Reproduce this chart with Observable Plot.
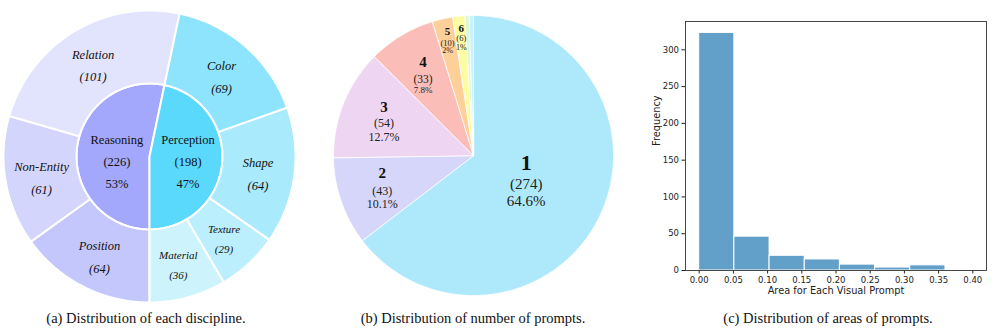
<!DOCTYPE html>
<html><head><meta charset="utf-8">
<script src="https://cdn.jsdelivr.net/npm/d3@7"></script>
<script src="https://cdn.jsdelivr.net/npm/@observablehq/plot@0.6"></script>
<style>
body{margin:0;background:#fff;}
#fig{position:relative;width:996px;height:333px;overflow:hidden;background:#fff;}
.panel{position:absolute;top:0;}
.cap{position:absolute;top:309px;font-family:"Liberation Serif",serif;font-size:14.5px;color:#111;white-space:nowrap;transform:translateX(-50%);line-height:18px;}
</style></head><body>
<div id="fig">
  <div class="panel" id="pa" style="left:0px"></div>
  <div class="panel" id="pb" style="left:323px"></div>
  <div class="panel" id="pc" style="left:640px"></div>
  <div class="cap" style="left:146px">(a) Distribution of each discipline.</div>
  <div class="cap" style="left:473px">(b) Distribution of number of prompts.</div>
  <div class="cap" style="left:828px">(c) Distribution of areas of prompts.</div>
</div>
<script>
// ---------- DATA ----------
// (a) disciplines (inner ring) and sub-categories (outer ring)
const disciplines = ["Reasoning", "Perception"];
const disciplineCounts = [226, 198];
const subCategories = ["Position", "Non-Entity", "Relation", "Color", "Shape", "Texture", "Material"];
const subParents = ["Reasoning", "Reasoning", "Reasoning", "Perception", "Perception", "Perception", "Perception"];
const subCounts = [64, 61, 101, 69, 64, 29, 36];

// (b) number of prompts
const promptNumbers = ["1", "2", "3", "4", "5", "6", "7", "8"];
const promptCounts = [274, 43, 54, 33, 10, 6, 2, 2];
const promptLabelled = ["1", "2", "3", "4", "5", "6"];

// (c) histogram of areas
const binEdges = [0, 0.0514, 0.1029, 0.1543, 0.2057, 0.2571, 0.3086, 0.36];
const binCounts = [323, 46, 20, 15, 8, 4, 7];
const xTickValues = [0, 0.05, 0.10, 0.15, 0.20, 0.25, 0.30, 0.35, 0.40];
const yTickValues = [0, 50, 100, 150, 200, 250, 300];
const xAxisLabel = "Area for Each Visual Prompt";
const yAxisLabel = "Frequency";

// ---------- STYLES ----------
const discColors = {Reasoning: "#a3a8fd", Perception: "#5bd9fd"};
const subColors = {Position: "#c4c7fc", "Non-Entity": "#d3d5fc", Relation: "#e2e3fd",
  Color: "#8fe4fd", Shape: "#a9eafd", Texture: "#bbeffd", Material: "#cdf4fd"};
const subFont = {Position: 12.5, "Non-Entity": 12.5, Relation: 12.5, Color: 12.5, Shape: 12.5, Texture: 11, Material: 11};
const pieColors = {"1": "#aee9fb", "2": "#d6d6fb", "3": "#eed6f3", "4": "#fbbdb8",
  "5": "#fdd09a", "6": "#fdfca2", "7": "#d8f8d6", "8": "#c9f3fb"};
const pieLabelStyle = {
  "1": {r: 0.42, head: 22, body: 15, pct: 15, off: [-19, 3, 20]},
  "2": {r: 0.69, head: 15, body: 12, pct: 12, off: [-14, 4, 17]},
  "3": {r: 0.69, head: 15, body: 12, pct: 12, off: [-12, 4, 18]},
  "4": {r: 0.70, head: 15, body: 11.5, pct: 9, off: [-9, 8, 19]},
  "5": {r: 0.84, head: 11, body: 8.5, pct: 8, off: [-9, 2, 10]},
  "6": {r: 0.84, head: 11, body: 8.5, pct: 8, off: [-10, 0, 9]}
};

// ---------- helpers ----------
function arcPolygon(key, a0, a1, r0, r1, color) {
  const n = Math.max(2, Math.ceil((a1 - a0) / (Math.PI / 360)));
  const pts = [];
  for (let i = 0; i <= n; i++) {
    const a = a0 + (a1 - a0) * i / n;
    pts.push({key, color, x: r1 * Math.sin(a), y: r1 * Math.cos(a)});
  }
  if (r0 > 0) {
    for (let i = n; i >= 0; i--) {
      const a = a0 + (a1 - a0) * i / n;
      pts.push({key, color, x: r0 * Math.sin(a), y: r0 * Math.cos(a)});
    }
  } else pts.push({key, color, x: 0, y: 0});
  return pts;
}
const mid = (d) => (d.startAngle + d.endAngle) / 2;
const serif = "'Liberation Serif', 'Times New Roman', serif";

// ---------- (a) sunburst ----------
{
  const R = 146, cx = 149, cy = 156;
  const total = d3.sum(disciplineCounts);
  const pie = d3.pie().sort(null).startAngle(Math.PI).endAngle(3 * Math.PI);
  const inner = pie(disciplineCounts);
  const outer = pie(subCounts);
  const polys = [];
  inner.forEach((d, i) => polys.push(...arcPolygon("in" + i, d.startAngle, d.endAngle, 0, 0.5, discColors[disciplines[i]])));
  outer.forEach((d, i) => polys.push(...arcPolygon("out" + i, d.startAngle, d.endAngle, 0.5, 1, subColors[subCategories[i]])));
  const outerLabels = outer.map((d, i) => ({
    x: 0.75 * Math.sin(mid(d)), y: 0.75 * Math.cos(mid(d)),
    text: `${subCategories[i]}\n(${subCounts[i]})`, size: subFont[subCategories[i]]
  }));
  const innerLabels = inner.map((d, i) => ({
    x: 0.245 * Math.sin(mid(d)) + 3 / R, y: -2 / R,
    text: `${disciplines[i]}\n(${disciplineCounts[i]})\n${Math.round(100 * disciplineCounts[i] / total)}%`
  }));
  const chart = Plot.plot({
    width: 300, height: 305, margin: 0,
    style: {fontFamily: serif, background: "transparent"},
    x: {domain: [-1, 1], range: [cx - R, cx + R], axis: null},
    y: {domain: [-1, 1], range: [cy + R, cy - R], axis: null},
    color: {type: "identity"},
    marks: [
      Plot.line(polys, {x: "x", y: "y", z: "key", fill: "color", stroke: "white", strokeWidth: 2, curve: "linear-closed"}),
      Plot.text(outerLabels, {x: "x", y: "y", text: "text", fontSize: "size", fontStyle: "italic", fontFamily: serif, lineHeight: 1.82, fill: "#111"}),
      Plot.text(innerLabels, {x: "x", y: "y", text: "text", fontSize: 12.5, fontFamily: serif, lineHeight: 1.76, fill: "#111"})
    ]
  });
  document.getElementById("pa").append(chart);
}

// ---------- (b) pie ----------
{
  const R = 140, cx = 150, cy = 155;
  const total = d3.sum(promptCounts);
  const arcs = d3.pie().sort(null)(promptCounts);
  const polys = [];
  arcs.forEach((d, i) => polys.push(...arcPolygon("p" + i, d.startAngle, d.endAngle, 0, 1, pieColors[promptNumbers[i]])));
  const heads = [], bodies = [];
  arcs.forEach((d, i) => {
    const k = promptNumbers[i];
    if (!promptLabelled.includes(k)) return;
    const s = pieLabelStyle[k];
    const x = s.r * Math.sin(mid(d)), y = s.r * Math.cos(mid(d));
    const p = promptCounts[i] / total;
    const pct = p >= 0.05 ? d3.format(".1f")(p * 100) + "%" : d3.format(".0f")(p * 100) + "%";
    heads.push({x, y: y - s.off[0] / R, text: k, size: s.head});
    bodies.push({x, y: y - s.off[1] / R, text: `(${promptCounts[i]})`, size: s.body});
    bodies.push({x, y: y - s.off[2] / R, text: pct, size: s.pct});
  });
  const chart = Plot.plot({
    width: 300, height: 305, margin: 0,
    style: {fontFamily: serif, background: "transparent"},
    x: {domain: [-1, 1], range: [cx - R, cx + R], axis: null},
    y: {domain: [-1, 1], range: [cy + R, cy - R], axis: null},
    color: {type: "identity"},
    marks: [
      Plot.line(polys, {x: "x", y: "y", z: "key", fill: "color", stroke: "white", strokeWidth: 0.8, curve: "linear-closed"}),
      Plot.text(heads, {x: "x", y: "y", text: "text", fontSize: "size", fontWeight: "bold", fontFamily: serif, fill: "#111"}),
      Plot.text(bodies, {x: "x", y: "y", text: "text", fontSize: "size", fontFamily: serif, fill: "#222"})
    ]
  });
  document.getElementById("pb").append(chart);
}

// ---------- (c) histogram ----------
{
  const bins = binCounts.map((c, i) => ({x0: binEdges[i], x1: binEdges[i + 1], count: c}));
  const chart = Plot.plot({
    width: 356, height: 305,
    marginLeft: 45, marginRight: 10, marginTop: 21, marginBottom: 35,
    style: {fontFamily: "'DejaVu Sans', sans-serif", fontSize: "8.5px", color: "#222", background: "transparent"},
    x: {domain: [-0.02, 0.42], ticks: xTickValues, tickFormat: d3.format(".2f"), tickSize: 3.5, tickPadding: 3, label: null},
    y: {domain: [0, 338.5], ticks: yTickValues, tickSize: 3.5, tickPadding: 3, label: null},
    marks: [
      Plot.rectY(bins, {x1: "x0", x2: "x1", y: "count", fill: "#62a0ca", stroke: "white", strokeWidth: 1}),
      Plot.frame({stroke: "#333", strokeWidth: 0.9}),
      Plot.text([xAxisLabel], {text: (d) => d, frameAnchor: "bottom", lineAnchor: "middle", dy: 20, fontSize: 9.8, fill: "#222"}),
      Plot.text([yAxisLabel], {text: (d) => d, frameAnchor: "left", dx: -29, rotate: -90, fontSize: 9.8, fill: "#222"})
    ]
  });
  document.getElementById("pc").append(chart);
}
</script>
</body></html>
